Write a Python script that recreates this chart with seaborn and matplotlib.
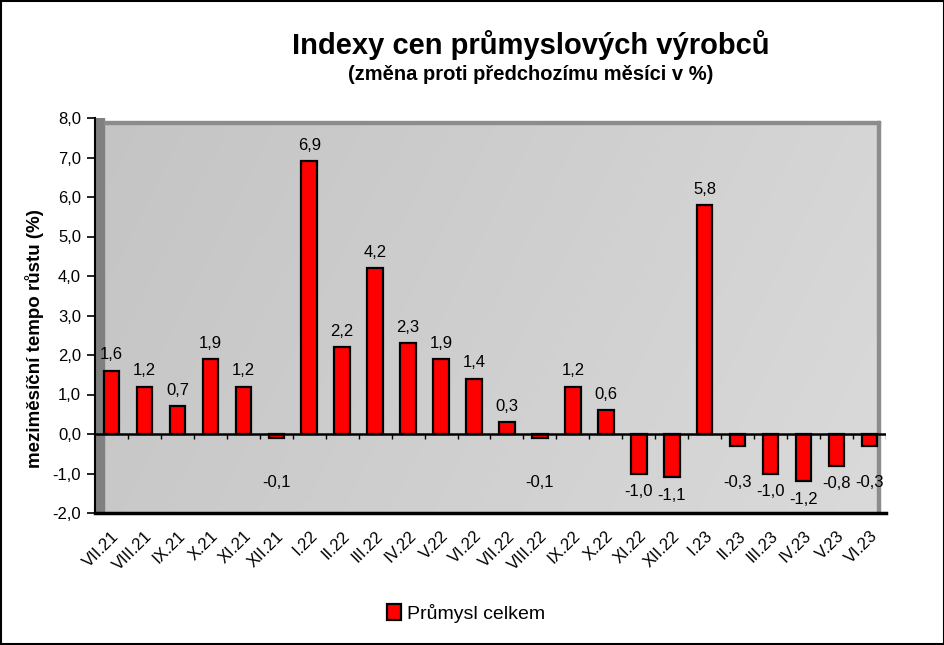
import numpy as np
import pandas as pd
import matplotlib
matplotlib.use("Agg")
import matplotlib.pyplot as plt
import seaborn as sns
from matplotlib.patches import Rectangle

# data
months = ["VII.21", "VIII.21", "IX.21", "X.21", "XI.21", "XII.21",
          "I.22", "II.22", "III.22", "IV.22", "V.22", "VI.22",
          "VII.22", "VIII.22", "IX.22", "X.22", "XI.22", "XII.22",
          "I.23", "II.23", "III.23", "IV.23", "V.23", "VI.23"]
values = [1.6, 1.2, 0.7, 1.9, 1.2, -0.1,
          6.9, 2.2, 4.2, 2.3, 1.9, 1.4,
          0.3, -0.1, 1.2, 0.6, -1.0, -1.1,
          5.8, -0.3, -1.0, -1.2, -0.8, -0.3]
yticks = np.arange(-2, 8.01, 1.0)
series_name = "Průmysl celkem"

df = pd.DataFrame({"mesic": months, "hodnota": values})

sns.set_style("white")
plt.rcParams["font.family"] = ["Liberation Sans", "DejaVu Sans"]
plt.rcParams["text.color"] = "black"
plt.rcParams["xtick.color"] = "black"
plt.rcParams["ytick.color"] = "black"
plt.rcParams["axes.labelcolor"] = "black"

fig = plt.figure(figsize=(9.45, 6.45), dpi=100)
ax = fig.add_axes([95 / 945, (645 - 513) / 645, (886 - 95) / 945, (513 - 118) / 645])

# gray gradient wall (left darker, right lighter)
grad = np.linspace(0, 1, 256).reshape(1, -1)
grad = 0.8 * grad + 0.2 * np.linspace(0, 1, 64).reshape(-1, 1)
wall_cmap = matplotlib.colors.LinearSegmentedColormap.from_list("w", ["#c4c4c4", "#dadada"])
ax.imshow(grad, cmap=wall_cmap, extent=[0, 0.992, 0, 0.992], transform=ax.transAxes,
          aspect="auto", zorder=0)
ax.add_patch(Rectangle((0, 0), 0.011, 1.0, transform=ax.transAxes, color="#808080", zorder=0.5))
ax.add_patch(Rectangle((0.011, 0.986), 0.981, 0.007, transform=ax.transAxes, color="#8c8c8c", zorder=0.5))
ax.add_patch(Rectangle((0.989, 0), 0.004, 0.993, transform=ax.transAxes, color="#8c8c8c", zorder=0.5))

sns.barplot(data=df, x="mesic", y="hodnota", order=months, color="#ff0000", saturation=1,
            width=0.47, edgecolor="black", linewidth=1.6, ax=ax, zorder=3, label=series_name)

n = len(months)
ax.set_xlim(-0.5, n - 0.5)
ax.set_ylim(-2, 8)
ax.axhline(0, color="black", lw=1.8, zorder=4)
ax.vlines(np.arange(n) + 0.5, -0.13, 0, color="black", lw=1, zorder=4)

# data labels
for i, v in enumerate(values):
    txt = f"{v:.1f}".replace(".", ",")
    if v >= 0:
        ax.annotate(txt, (i, v), xytext=(0, 6), textcoords="offset points",
                    ha="center", va="bottom", fontsize=12, zorder=5)
    else:
        ax.text(i, min(-1.22, v - 0.45), txt, ha="center", va="center", fontsize=12, zorder=5)

ax.set_yticks(yticks)
ax.set_yticklabels([f"{t:.1f}".replace(".", ",") for t in yticks], fontsize=12)
ax.set_xticks(np.arange(n))
ax.set_xticklabels(months, rotation=45, ha="right", rotation_mode="anchor", fontsize=12)
ax.tick_params(axis="x", length=0, pad=11)
ax.tick_params(axis="y", direction="out", length=6, width=1.2, left=True, pad=4)
ax.set_xlabel("")
ax.set_ylabel("")
for s in ["top", "right"]:
    ax.spines[s].set_visible(False)
ax.spines["left"].set_linewidth(1.5)
ax.spines["bottom"].set_linewidth(2.5)
ax.spines["left"].set_color("black")
ax.spines["bottom"].set_color("black")
if ax.get_legend() is not None:
    ax.get_legend().remove()

fig.text(0.562, 0.930, "Indexy cen průmyslových výrobců", ha="center", va="center",
         fontsize=21, fontweight="bold")
fig.text(0.562, 0.884, "(změna proti předchozímu měsíci v %)", ha="center", va="center",
         fontsize=14.5, fontweight="bold")
fig.text(0.036, 0.475, "meziměsíční tempo růstu (%)", rotation=90, ha="center", va="center",
         fontsize=13.5, fontweight="bold")

handles, labels = ax.get_legend_handles_labels()
fig.legend(handles[:1], [series_name], loc="center", bbox_to_anchor=(0.493, 0.049), frameon=False,
           fontsize=14, handlelength=0.7, handleheight=0.9, handletextpad=0.3)

fig.patches.append(Rectangle((0.001, 0.001), 0.998, 0.998, transform=fig.transFigure,
                             fill=False, edgecolor="black", lw=1.5))

fig.savefig("out.png", dpi=100)
